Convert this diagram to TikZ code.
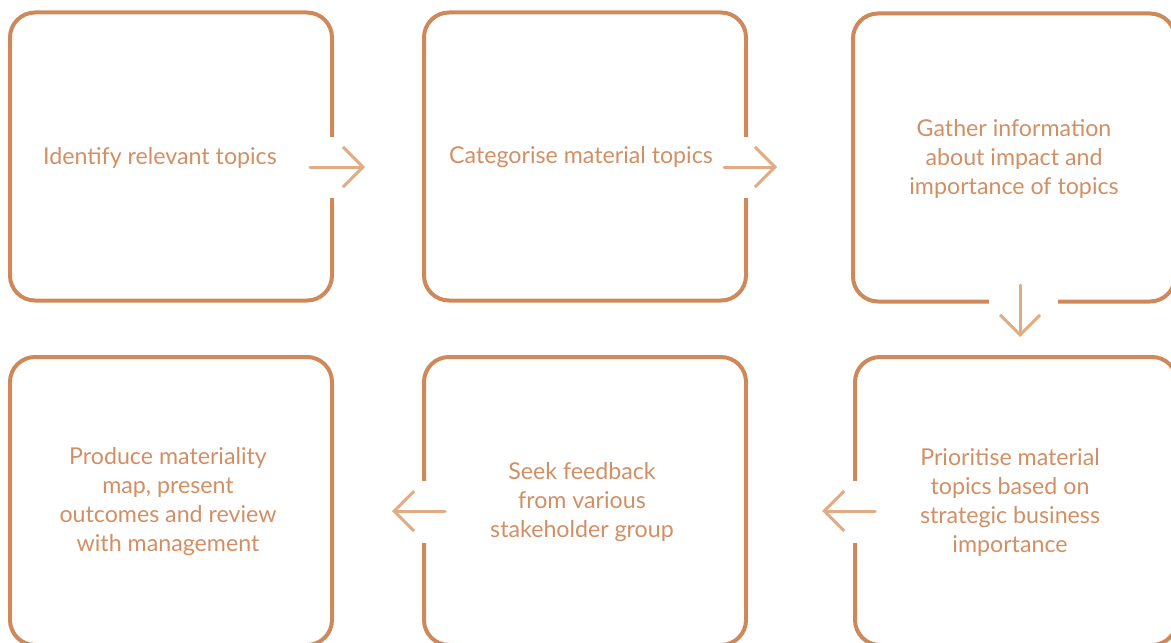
\documentclass[tikz,border=0pt]{standalone}
\usepackage{fontspec}
\setmainfont{Lato}
\usetikzlibrary{arrows.meta,positioning}
\definecolor{boxc}{RGB}{205,137,90}
\definecolor{arrc}{RGB}{225,172,132}
\definecolor{txtc}{RGB}{210,143,100}
\tikzset{
    stepbox/.style={draw=boxc, line width=2pt, rounded corners=12.5pt,
        minimum width=161pt, minimum height=144pt},
    steptext/.style={align=center, text=txtc, yshift=-0.5pt,
        font=\fontsize{11.6}{14.5}\selectfont},
    gapline/.style={draw=white, line width=3.5pt},
    flow/.style={draw=arrc, line width=1.5pt, line cap=round,
        -{Straight Barb[length=10pt,width=20pt]}}
}
\begin{document}
\begin{tikzpicture}[x=0.5pt, y=-0.5pt]
    \useasboundingbox (0,0) rectangle (1171,642);
    \clip (0,0) rectangle (1171,642);
    % Boxes
    \node[stepbox, label={[steptext, xshift=-5.5pt]center:Identify relevant topics}] (b1) at (171,156.5) {};
    \node[stepbox, label={[steptext, xshift=-2pt]center:Categorise material topics}] (b2) at (585,156.5) {};
    \node[stepbox, label={[steptext]center:Gather information\\about impact and\\importance of topics}] (b3) at (1014,157.5) {};
    \node[stepbox, label={[steptext, xshift=-1.5pt]center:Produce materiality\\map, present\\outcomes and review\\with management}] (b4) at (171,501) {};
    \node[stepbox, label={[steptext, xshift=-1.5pt]center:Seek feedback\\from various\\stakeholder group}] (b5) at (585,501) {};
    \node[stepbox, label={[steptext, xshift=-3pt]center:Prioritise material\\topics based on\\strategic business\\importance}] (b6) at (1016,501) {};
    % Gaps
    \draw[gapline] (332,137) -- (332,198);
    \draw[gapline] (746,137) -- (746,198);
    \draw[gapline] (989,301) -- (1058,301);
    \draw[gapline] (424,481) -- (424,543);
    \draw[gapline] (855,481) -- (855,543);
    % Arrows
    \coordinate (a1s) at (310,167);
    \coordinate (a1e) at (365,167);
    \coordinate (a2s) at (724,167);
    \coordinate (a2e) at (777,167);
    \coordinate (a3s) at (1020,285);
    \coordinate (a3e) at (1020,337);
    \coordinate (a4s) at (875,511);
    \coordinate (a4e) at (822,511);
    \coordinate (a5s) at (445,511);
    \coordinate (a5e) at (392,511);
    \draw[flow] (a1s) -- (a1e);
    \draw[flow] (a2s) -- (a2e);
    \draw[flow] (a3s) -- (a3e);
    \draw[flow] (a4s) -- (a4e);
    \draw[flow] (a5s) -- (a5e);
\end{tikzpicture}
\end{document}
